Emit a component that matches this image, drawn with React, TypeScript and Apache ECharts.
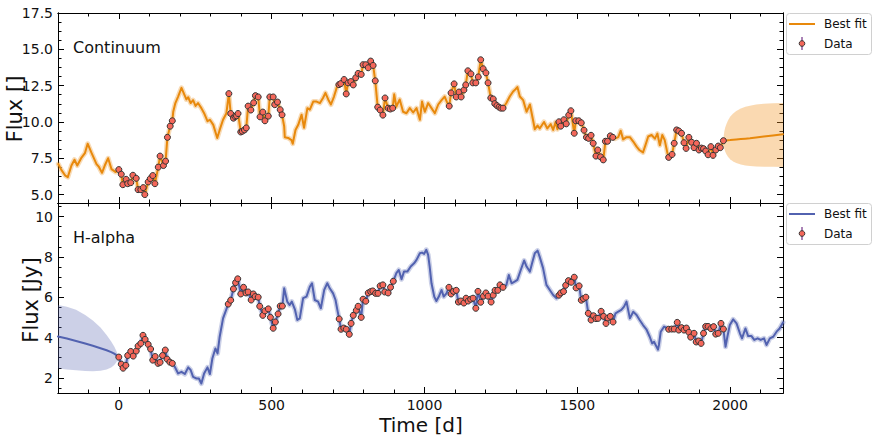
import React, { useEffect, useRef } from "react";
import * as echarts from "echarts";

// ---------- axis ranges & ticks ----------
const X_MIN = -199;
const X_MAX = 2173;
const TOP_Y_MIN = 4.42;
const TOP_Y_MAX = 17.5;
const BOT_Y_MIN = 1.25;
const BOT_Y_MAX = 10.67;

const xMajorTicks = [0, 500, 1000, 1500, 2000];
const xMinorTicks = [-100, 100, 200, 300, 400, 600, 700, 800, 900, 1100, 1200, 1300, 1400, 1600, 1700, 1800, 1900, 2100];
const topYMajorTicks = [5, 7.5, 10, 12.5, 15, 17.5];
const topYMinorTicks = [5.625, 6.25, 6.875, 8.125, 8.75, 9.375, 10.625, 11.25, 11.875, 13.125, 13.75, 14.375, 15.625, 16.25, 16.875];
const botYMajorTicks = [2, 4, 6, 8, 10];
const botYMinorTicks = [1.5, 2.5, 3, 3.5, 4.5, 5, 5.5, 6.5, 7, 7.5, 8.5, 9, 9.5, 10.5];

// ---------- Continuum (top) ----------
const topDataX = [0, 8, 13, 24, 29, 39, 46, 57, 63, 72, 80, 85, 96, 103, 111, 118, 129, 135, 146, 153, 159, 168, 175,
  360, 366, 375, 380, 385, 390, 399, 404, 411, 417, 423, 432, 441, 447, 456, 462, 471, 478, 489, 494, 505, 510, 519, 528, 534,
  720, 726, 737, 744, 750, 759, 767, 775, 783, 793, 799, 808, 816, 824, 832, 839, 847, 855, 864, 871, 881, 888, 896,
  1081, 1087, 1097, 1104, 1113, 1120, 1129, 1135, 1142, 1152, 1158, 1168, 1176, 1184, 1192, 1201, 1208, 1217, 1225, 1230, 1237, 1244, 1250, 1257,
  1440, 1446, 1456, 1464, 1472, 1479, 1490, 1495, 1505, 1513, 1522, 1530, 1537, 1545, 1552, 1561, 1567, 1576, 1585, 1592, 1599, 1608, 1616,
  1799, 1810, 1817, 1825, 1832, 1841, 1849, 1856, 1865, 1874, 1882, 1890, 1898, 1906, 1913, 1920, 1928, 1937, 1944, 1953, 1961, 1968, 1978];
const topDataY = [6.72, 6.4, 5.68, 6.05, 5.75, 5.82, 6.33, 6.12, 5.34, 5.34, 5.48, 5.0, 5.87, 6.1, 6.31, 5.75, 6.89, 7.65, 7.0, 7.3, 8.94, 9.71, 10.08,
  11.95, 10.58, 10.26, 10.38, 10.42, 10.58, 9.31, 9.36, 9.45, 9.59, 11.09, 10.82, 11.32, 11.81, 11.72, 10.35, 10.68, 10.08, 10.4, 11.72, 11.72, 11.19, 11.37, 10.84, 10.49,
  12.57, 12.64, 12.92, 11.93, 12.69, 12.78, 12.55, 13.04, 13.34, 13.27, 13.94, 13.94, 13.73, 14.19, 13.89, 12.83, 11.02, 10.82, 10.47, 11.65, 10.95, 10.89, 10.95,
  11.09, 12.0, 12.62, 11.72, 12.06, 11.72, 12.2, 12.55, 13.52, 13.31, 12.69, 12.69, 13.1, 14.28, 13.66, 13.38, 12.69, 11.65, 11.58, 11.26, 11.12, 11.02, 10.95, 10.95,
  10.01, 9.71, 10.15, 9.87, 10.47, 10.77, 9.22, 10.08, 10.08, 9.94, 9.43, 8.94, 8.87, 9.08, 8.53, 7.65, 8.07, 7.6, 7.39, 8.67, 8.67, 9.04, 8.94,
  7.56, 7.76, 8.53, 9.45, 9.38, 9.22, 8.57, 8.18, 8.94, 8.6, 8.23, 8.53, 8.07, 8.2, 8.16, 8.0, 7.74, 8.3, 7.7, 8.07, 8.34, 8.23, 8.71];

const topFitX = [-198, -188, -175, -167, -155, -145, -136, -122, -111, -102, -90, -73, -65, -55, -46, -35, -24, -10,
  178, 185, 194, 205, 214, 221, 227, 235, 243, 251, 259, 270, 279, 290, 298, 309, 322, 330, 341, 352,
  541, 543, 554, 565, 569, 578, 587, 598, 606, 617, 625, 636, 647, 658, 668, 676, 685, 694, 704, 715,
  901, 908, 919, 930, 941, 952, 963, 974, 985, 992, 1001, 1012, 1023, 1034, 1045, 1056, 1066, 1075,
  1268, 1279, 1290, 1298, 1304, 1312, 1323, 1334, 1345, 1355, 1361, 1370, 1377, 1391, 1402, 1413, 1421, 1429, 1435,
  1623, 1634, 1642, 1650, 1661, 1672, 1683, 1694, 1704, 1715, 1723, 1732, 1743, 1754, 1762, 1770, 1778, 1786, 1795];
const topFitY = [7.1, 6.7, 6.3, 6.2, 7.0, 7.4, 7.0, 7.55, 7.85, 8.5, 7.9, 7.1, 6.9, 6.5, 7.0, 7.5, 6.75, 6.55,
  10.7, 11.3, 11.75, 12.35, 11.9, 11.55, 11.7, 11.3, 11.5, 11.1, 11.3, 10.95, 10.6, 10.05, 10.15, 9.8, 8.9, 9.45, 10.15, 10.6,
  9.7, 8.95, 8.9, 8.75, 8.5, 9.45, 9.8, 10.5, 9.6, 10.95, 10.85, 11.4, 11.4, 11.3, 11.65, 12.0, 11.55, 11.2, 11.75, 12.5,
  11.9, 11.05, 11.55, 10.7, 10.6, 10.95, 10.65, 10.95, 10.15, 11.4, 10.7, 11.3, 10.95, 10.6, 11.2, 11.5, 11.75, 11.3,
  11.3, 11.75, 12.1, 12.25, 12.4, 11.75, 11.5, 10.7, 11.2, 10.15, 9.5, 9.75, 9.55, 10.0, 9.55, 9.85, 9.45, 10.0, 9.5,
  8.85, 8.95, 9.4, 8.8, 8.95, 8.95, 8.65, 8.3, 8.05, 7.9, 8.4, 9.0, 9.1, 8.85, 9.2, 8.4, 9.1, 8.75, 7.85];

const topPredX = [1978, 1979, 1981, 1984, 1988, 1993, 2000, 2010, 2020, 2035, 2050, 2065, 2085, 2110, 2140, 2173];
const topPredMid = [8.71, 8.71, 8.72, 8.72, 8.73, 8.74, 8.75, 8.77, 8.79, 8.82, 8.85, 8.88, 8.93, 8.99, 9.07, 9.16];
const topPredHigh = [8.71, 9.05, 9.35, 9.62, 9.85, 10.1, 10.35, 10.58, 10.75, 10.93, 11.04, 11.12, 11.2, 11.25, 11.28, 11.3];
const topPredLow = [8.71, 8.4, 8.15, 7.95, 7.78, 7.6, 7.43, 7.28, 7.17, 7.07, 7.01, 6.97, 6.94, 6.92, 6.91, 6.9];

// ---------- H-alpha (bottom) ----------
const botDataX = [0, 8, 14, 23, 29, 39, 47, 57, 63, 72, 79, 86, 96, 104, 111, 119, 128, 135, 143, 152, 158, 167, 175,
  358, 366, 375, 382, 389, 399, 408, 416, 423, 433, 440, 446, 456, 461, 471, 478, 489, 496, 505, 512, 521, 528, 535,
  721, 727, 736, 744, 754, 760, 767, 777, 783, 793, 799, 808, 816, 824, 831, 840, 848, 855, 864, 870, 881, 889, 898,
  1080, 1087, 1095, 1104, 1111, 1119, 1129, 1136, 1143, 1151, 1159, 1168, 1175, 1184, 1193, 1201, 1208, 1218, 1225, 1231, 1240, 1247, 1257,
  1440, 1446, 1455, 1462, 1471, 1480, 1490, 1496, 1506, 1513, 1520, 1528, 1536, 1545, 1553, 1561, 1568, 1578, 1586, 1594, 1600, 1608, 1617,
  1799, 1809, 1817, 1827, 1832, 1841, 1849, 1857, 1865, 1871, 1882, 1889, 1897, 1905, 1913, 1920, 1928, 1937, 1946, 1953, 1961, 1970, 1978];
const botDataY = [3.03, 2.68, 2.48, 2.62, 3.11, 3.31, 3.08, 3.33, 3.58, 3.71, 4.11, 3.91, 3.66, 3.43, 2.88, 3.06, 2.72, 2.77, 3.11, 3.38, 2.93, 2.78, 2.72,
  5.66, 5.85, 6.41, 6.72, 6.91, 6.16, 6.49, 6.21, 6.26, 5.86, 6.16, 6.03, 6.0, 5.55, 5.1, 5.32, 5.42, 5.0, 4.46, 4.77, 5.17, 5.56, 5.56,
  4.92, 4.41, 4.47, 4.41, 4.16, 4.7, 5.1, 5.35, 5.55, 5.0, 5.9, 5.8, 6.21, 6.28, 6.31, 6.19, 6.19, 6.56, 6.61, 6.26, 6.21, 6.49, 6.79,
  6.49, 6.16, 6.29, 6.34, 5.76, 5.81, 5.71, 5.95, 5.81, 5.9, 5.95, 5.45, 6.29, 5.75, 6.05, 6.21, 6.05, 5.76, 6.1, 6.34, 6.34, 6.61, 6.49,
  6.1, 6.21, 6.28, 6.59, 6.82, 6.74, 6.99, 6.46, 6.56, 5.85, 5.93, 6.0, 5.2, 4.87, 5.08, 4.94, 4.95, 5.3, 5.05, 4.7, 4.97, 5.05, 4.77,
  4.41, 4.42, 4.42, 4.75, 4.37, 4.49, 4.37, 4.47, 4.26, 4.02, 4.21, 3.78, 3.83, 3.71, 4.21, 4.55, 4.55, 4.44, 4.54, 4.17, 4.21, 4.7, 4.42];

const botFitX = [183, 194, 205, 216, 227, 235, 243, 254, 262, 270, 279, 290, 298, 306, 316, 323, 330, 341, 349,
  541, 551, 559, 566, 576, 584, 592, 603, 614, 625, 632, 641, 652, 661, 672, 682, 690, 701, 709, 715,
  908, 916, 925, 933, 944, 955, 966, 974, 985, 992, 999, 1006, 1012, 1017, 1023, 1032, 1039, 1047, 1056, 1063, 1072,
  1268, 1276, 1285, 1295, 1304, 1315, 1326, 1334, 1345, 1352, 1361, 1370, 1377, 1388, 1399, 1410, 1421, 1432,
  1625, 1634, 1644, 1653, 1661, 1672, 1683, 1694, 1704, 1715, 1726, 1737, 1745, 1751, 1764, 1767, 1773, 1784, 1795,
  1985, 1991, 1999, 2010, 2021, 2032, 2039, 2050, 2059, 2070, 2079, 2090, 2100, 2111, 2119, 2130, 2141, 2152, 2162, 2173];
const botFitY = [2.55, 2.22, 2.3, 2.19, 2.52, 2.39, 2.05, 1.97, 1.97, 1.72, 2.22, 2.52, 2.19, 2.96, 3.46, 3.21, 4.04, 4.95, 5.28,
  6.44, 5.78, 5.61, 5.78, 5.4, 4.87, 4.95, 5.95, 6.03, 6.52, 6.69, 5.86, 5.78, 5.45, 6.36, 6.69, 6.44, 6.19, 5.86, 5.37,
  7.19, 7.35, 6.89, 7.27, 7.27, 7.52, 7.68, 7.85, 8.18, 8.21, 8.15, 8.35, 8.1, 7.52, 6.69, 6.03, 5.81, 6.03, 6.36, 6.03, 6.19,
  6.61, 7.1, 6.69, 6.77, 6.86, 7.35, 7.82, 7.52, 7.27, 7.68, 8.18, 8.31, 8.0, 7.44, 6.61, 6.36, 6.11, 5.95,
  5.2, 5.28, 5.37, 5.53, 5.78, 4.95, 5.28, 5.12, 4.87, 4.62, 4.41, 4.04, 3.71, 3.79, 3.4, 3.63, 4.29, 4.54, 4.46,
  3.54, 4.04, 4.62, 4.9, 4.7, 4.21, 3.96, 4.45, 4.07, 4.07, 3.88, 3.96, 3.88, 3.96, 3.63, 3.96, 4.04, 4.29, 4.45, 4.75];

const botPredX = [-199, -170, -140, -110, -85, -60, -40, -25, -15, -8, -3, 0];
const botPredMid = [4.05, 3.95, 3.83, 3.7, 3.59, 3.47, 3.37, 3.28, 3.2, 3.13, 3.07, 3.03];
const botPredHigh = [5.61, 5.52, 5.38, 5.12, 4.85, 4.5, 4.12, 3.8, 3.55, 3.33, 3.14, 3.03];
const botPredLow = [2.47, 2.42, 2.38, 2.34, 2.33, 2.35, 2.41, 2.52, 2.64, 2.78, 2.92, 3.03];

// ---------- styles ----------
const FONT = '"DejaVu Sans", "Liberation Sans", sans-serif';
const ORANGE = "#e8890c";
const BLUE = "#5262b0";
const DOT = "#f4675a";
const DOT_EDGE = "#333333";
const ERR = "#8e5a9e";

function pairs(xs: number[], ys: number[]) {
  return xs.map((x, i) => [x, ys[i]]);
}
function merged(ax: number[], ay: number[], bx: number[], by: number[]) {
  return pairs(ax, ay).concat(pairs(bx, by)).sort((a, b) => a[0] - b[0]);
}

function xAxisDef(grid: number, position: string, ticks: number[], len: number, labels: boolean) {
  return {
    type: "value",
    gridIndex: grid,
    position,
    min: X_MIN,
    max: X_MAX,
    axisLine: { show: true, onZero: false, lineStyle: { color: "#000", width: 1 } },
    axisTick: { show: true, inside: true, length: len, customValues: ticks, lineStyle: { color: "#000", width: 1 } },
    axisLabel: {
      show: labels,
      customValues: ticks,
      margin: 5,
      color: "#111",
      fontSize: 14,
      fontFamily: FONT,
      formatter: (v: number) => String(Math.round(v)),
    },
    splitLine: { show: false },
    minorTick: { show: false },
  };
}

function yAxisDef(grid: number, position: string, min: number, max: number, ticks: number[], len: number, labels: boolean, digits: number) {
  return {
    type: "value",
    gridIndex: grid,
    position,
    min,
    max,
    axisLine: { show: true, onZero: false, lineStyle: { color: "#000", width: 1 } },
    axisTick: { show: true, inside: true, length: len, customValues: ticks, lineStyle: { color: "#000", width: 1 } },
    axisLabel: {
      show: labels,
      customValues: ticks,
      margin: 5,
      color: "#111",
      fontSize: 14,
      fontFamily: FONT,
      formatter: (v: number) => v.toFixed(digits),
    },
    splitLine: { show: false },
    minorTick: { show: false },
  };
}

function bandSeries(xi: number, yi: number, xs: number[], hi: number[], lo: number[], fill: string) {
  return {
    type: "custom",
    xAxisIndex: xi,
    yAxisIndex: yi,
    silent: true,
    z: 1,
    clip: true,
    data: [[xs[0], hi[0]]],
    renderItem: (_p: any, api: any) => {
      const pts: number[][] = [];
      for (let i = 0; i < xs.length; i++) pts.push(api.coord([xs[i], hi[i]]));
      for (let i = xs.length - 1; i >= 0; i--) pts.push(api.coord([xs[i], lo[i]]));
      return { type: "polygon", shape: { points: pts }, style: { fill, stroke: "none" } };
    },
  };
}

function lineSeries(xi: number, yi: number, data: number[][], color: string, width: number, opacity: number, z: number) {
  return {
    type: "line",
    xAxisIndex: xi,
    yAxisIndex: yi,
    data,
    showSymbol: false,
    symbol: "none",
    silent: true,
    z,
    lineStyle: { color, width, opacity, join: "round", cap: "round" },
  };
}

function scatterSeries(xi: number, yi: number, data: number[][]) {
  return {
    type: "scatter",
    xAxisIndex: xi,
    yAxisIndex: yi,
    data,
    symbol: "circle",
    symbolSize: 6,
    silent: true,
    z: 5,
    itemStyle: { color: DOT, borderColor: DOT_EDGE, borderWidth: 1, opacity: 1 },
  };
}

function legendGroup(top: number, color: string) {
  return {
    type: "group",
    children: [
      {
        type: "rect",
        shape: { x: 786.5, y: top + 0.5, width: 85, height: 41, r: 3 },
        style: { fill: "rgba(255,255,255,0.9)", stroke: "#d0d0d0", lineWidth: 1 },
      },
      { type: "line", shape: { x1: 789, y1: top + 11, x2: 815, y2: top + 11 }, style: { stroke: color, lineWidth: 2 } },
      {
        type: "text",
        x: 824,
        y: top + 11,
        style: { text: "Best fit", fontSize: 12, fontFamily: FONT, fill: "#111", align: "left", verticalAlign: "middle" },
      },
      { type: "line", shape: { x1: 802, y1: top + 24, x2: 802, y2: top + 37 }, style: { stroke: ERR, lineWidth: 1.5 } },
      { type: "circle", shape: { cx: 802, cy: top + 30.5, r: 2.8 }, style: { fill: DOT, stroke: DOT_EDGE, lineWidth: 1 } },
      {
        type: "text",
        x: 824,
        y: top + 31,
        style: { text: "Data", fontSize: 12, fontFamily: FONT, fill: "#111", align: "left", verticalAlign: "middle" },
      },
    ],
  };
}

export default function App() {
  const ref = useRef<HTMLDivElement>(null);

  useEffect(() => {
    if (!ref.current) return;
    const chart = echarts.init(ref.current, undefined, { renderer: "svg" });

    const topLine = merged(topFitX, topFitY, topDataX, topDataY);
    const botLine = merged(botFitX, botFitY, botDataX, botDataY);
    const topPred = pairs(topPredX, topPredMid);
    const botPred = pairs(botPredX, botPredMid);

    const option: any = {
      animation: false,
      backgroundColor: "#fff",
      grid: [
        { left: 58, top: 13, width: 725, height: 190 },
        { left: 58, top: 203, width: 725, height: 190 },
      ],
      xAxis: [
        xAxisDef(0, "bottom", xMajorTicks, 6, false),
        xAxisDef(0, "bottom", xMinorTicks, 3.5, false),
        xAxisDef(0, "top", xMajorTicks, 6, false),
        xAxisDef(0, "top", xMinorTicks, 3.5, false),
        xAxisDef(1, "bottom", xMajorTicks, 6, true),
        xAxisDef(1, "bottom", xMinorTicks, 3.5, false),
        xAxisDef(1, "top", xMajorTicks, 6, false),
        xAxisDef(1, "top", xMinorTicks, 3.5, false),
      ],
      yAxis: [
        yAxisDef(0, "left", TOP_Y_MIN, TOP_Y_MAX, topYMajorTicks, 6, true, 1),
        yAxisDef(0, "left", TOP_Y_MIN, TOP_Y_MAX, topYMinorTicks, 3.5, false, 1),
        yAxisDef(0, "right", TOP_Y_MIN, TOP_Y_MAX, topYMajorTicks, 6, false, 1),
        yAxisDef(0, "right", TOP_Y_MIN, TOP_Y_MAX, topYMinorTicks, 3.5, false, 1),
        yAxisDef(1, "left", BOT_Y_MIN, BOT_Y_MAX, botYMajorTicks, 6, true, 0),
        yAxisDef(1, "left", BOT_Y_MIN, BOT_Y_MAX, botYMinorTicks, 3.5, false, 0),
        yAxisDef(1, "right", BOT_Y_MIN, BOT_Y_MAX, botYMajorTicks, 6, false, 0),
        yAxisDef(1, "right", BOT_Y_MIN, BOT_Y_MAX, botYMinorTicks, 3.5, false, 0),
      ],
      series: [
        // Continuum
        bandSeries(0, 0, topPredX, topPredHigh, topPredLow, "rgba(240,150,40,0.36)"),
        lineSeries(0, 0, topLine, ORANGE, 5, 0.3, 2),
        lineSeries(0, 0, topLine, ORANGE, 2, 1, 3),
        lineSeries(0, 0, topPred, ORANGE, 2, 1, 3),
        scatterSeries(0, 0, pairs(topDataX, topDataY)),
        // H-alpha
        bandSeries(4, 4, botPredX, botPredHigh, botPredLow, "rgba(85,99,176,0.3)"),
        lineSeries(4, 4, botLine, BLUE, 5, 0.3, 2),
        lineSeries(4, 4, botLine, BLUE, 2, 1, 3),
        lineSeries(4, 4, botPred, BLUE, 2, 1, 3),
        scatterSeries(4, 4, pairs(botDataX, botDataY)),
      ],
      graphic: [
        {
          type: "text",
          x: 15,
          y: 109,
          rotation: Math.PI / 2,
          style: { text: "Flux []", fontSize: 21, fontFamily: FONT, fill: "#111", align: "center", verticalAlign: "middle" },
        },
        {
          type: "text",
          x: 31,
          y: 300,
          rotation: Math.PI / 2,
          style: { text: "Flux [Jy]", fontSize: 21, fontFamily: FONT, fill: "#111", align: "center", verticalAlign: "middle" },
        },
        {
          type: "text",
          x: 421,
          y: 425,
          style: { text: "Time [d]", fontSize: 20, fontFamily: FONT, fill: "#111", align: "center", verticalAlign: "middle" },
        },
        {
          type: "text",
          x: 73,
          y: 47,
          style: { text: "Continuum", fontSize: 16, fontFamily: FONT, fill: "#111", align: "left", verticalAlign: "middle" },
        },
        {
          type: "text",
          x: 73,
          y: 237,
          style: { text: "H-alpha", fontSize: 16, fontFamily: FONT, fill: "#111", align: "left", verticalAlign: "middle" },
        },
        legendGroup(13, ORANGE),
        legendGroup(203, BLUE),
      ],
    };

    chart.setOption(option);
    return () => chart.dispose();
  }, []);

  return (
    <div
      ref={ref}
      style={{ position: "absolute", left: 0, top: 0, width: 878, height: 442, background: "#fff" }}
    />
  );
}
